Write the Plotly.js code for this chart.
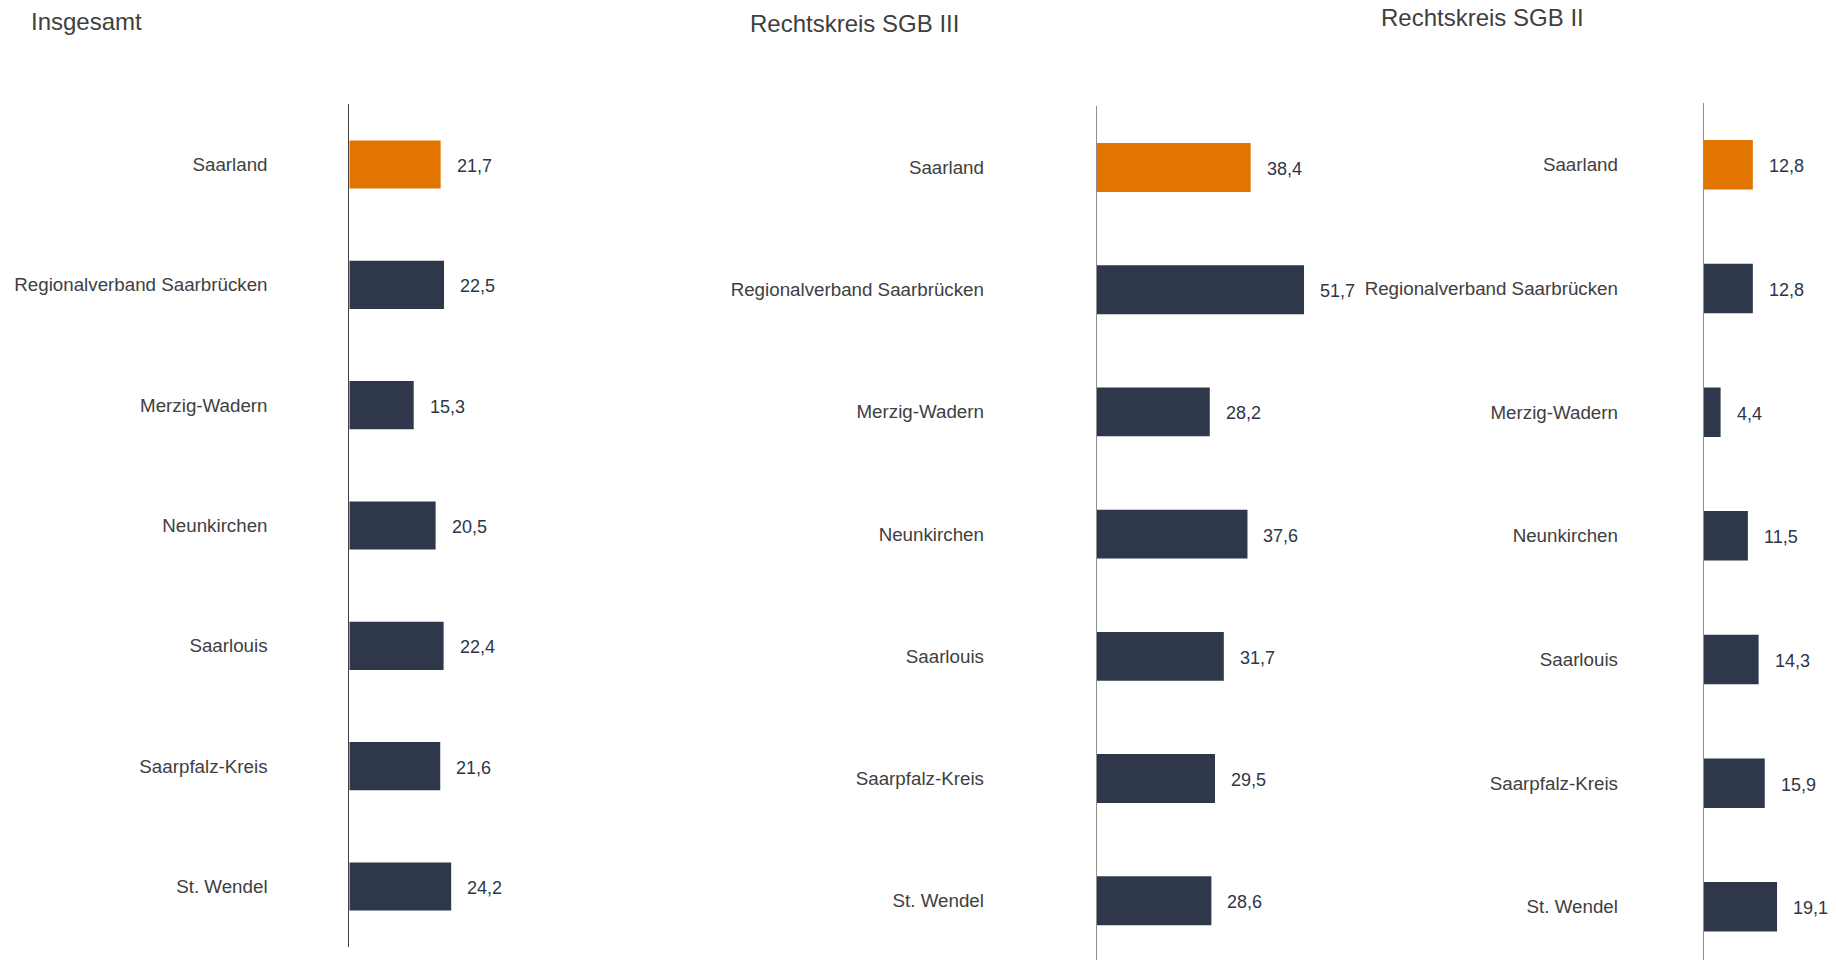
<!DOCTYPE html>
<html>
<head>
<meta charset="utf-8">
<script src="https://cdn.plot.ly/plotly-3.0.1.min.js"></script>
<style>
html,body{margin:0;padding:0;background:#fff;}
#chart{width:1836px;height:960px;}
</style>
</head>
<body>
<div id="chart"></div>
<script>
// ---- data ----
const regions = ['Saarland', 'Regionalverband Saarbrücken', 'Merzig-Wadern', 'Neunkirchen', 'Saarlouis', 'Saarpfalz-Kreis', 'St. Wendel'];
const insgesamt = [21.7, 22.5, 15.3, 20.5, 22.4, 21.6, 24.2];
const sgb3 = [38.4, 51.7, 28.2, 37.6, 31.7, 29.5, 28.6];
const sgb2 = [12.8, 12.8, 4.4, 11.5, 14.3, 15.9, 19.1];
const panelTitles = ['Insgesamt', 'Rechtskreis SGB III', 'Rechtskreis SGB II'];

// ---- style ----
const W = 1836, H = 960;
const ORANGE = '#E27400', NAVY = '#2F374B';
const colors = regions.map((r, i) => i === 0 ? ORANGE : NAVY);
const FONT = '"Liberation Sans", Arial, sans-serif';

// panel geometry (pixels)
const panels = [
  {vals: insgesamt, x0: 349.3, x1: 700,  ppu: 4.21, top: 104.3, bot: 946.7, yr: [6.5, -0.5],  line: '#404040', standoff: 77, title: [29.2, 21.5]},
  {vals: sgb3,      x0: 1096.7, x1: 1350, ppu: 4.01, top: 106.4, bot: 960,  yr: [6.485, -0.5], line: '#8f8f8f', standoff: 108, title: [748.2, 23.5]},
  {vals: sgb2,      x0: 1703.7, x1: 1836, ppu: 3.84, top: 103,  bot: 960,   yr: [6.43, -0.5],  line: '#8f8f8f', standoff: 81, title: [1379.3, 17.7]}
];

const traces = [];
const layout = {
  width: W, height: H,
  margin: {l: 0, r: 0, t: 0, b: 0, pad: 0},
  paper_bgcolor: '#fff', plot_bgcolor: '#fff',
  showlegend: false,
  hovermode: false,
  font: {family: FONT, color: '#404040'},
  annotations: []
};

panels.forEach((p, k) => {
  const n = k === 0 ? '' : String(k + 1);
  traces.push({
    type: 'bar', orientation: 'h',
    x: p.vals, y: regions,
    xaxis: 'x' + n, yaxis: 'y' + n,
    width: 0.4,
    marker: {color: colors, line: {width: 0}},
    hoverinfo: 'skip'
  });
  layout['xaxis' + n] = {
    domain: [p.x0 / W, p.x1 / W],
    range: [0, (p.x1 - p.x0) / p.ppu],
    visible: false, fixedrange: true,
    anchor: 'y' + n
  };
  layout['yaxis' + n] = {
    domain: [1 - p.bot / H, 1 - p.top / H],
    type: 'category',
    categoryorder: 'array', categoryarray: regions,
    range: p.yr,
    showline: true, linecolor: p.line, linewidth: 1,
    showgrid: false, zeroline: false, ticks: '',
    ticklabelstandoff: p.standoff,
    tickfont: {family: FONT, size: 18.75, color: '#404040'},
    fixedrange: true,
    anchor: 'x' + n
  };
  // value labels
  p.vals.forEach((v, i) => {
    layout.annotations.push({
      xref: 'x' + n, yref: 'y' + n,
      x: v, y: regions[i],
      text: v.toFixed(1).replace('.', ','),
      showarrow: false, xanchor: 'left', yanchor: 'middle',
      xshift: 14, yshift: -1.5,
      font: {family: FONT, size: 18, color: '#2D3648'}
    });
  });
  // panel title
  layout.annotations.push({
    xref: 'paper', yref: 'paper',
    x: p.title[0] / W, y: 1 - p.title[1] / H,
    text: panelTitles[k],
    showarrow: false, xanchor: 'left', yanchor: 'middle',
    font: {family: FONT, size: 24, color: '#404040'}
  });
});

Plotly.newPlot('chart', traces, layout, {displayModeBar: false, staticPlot: true});
</script>
</body>
</html>
